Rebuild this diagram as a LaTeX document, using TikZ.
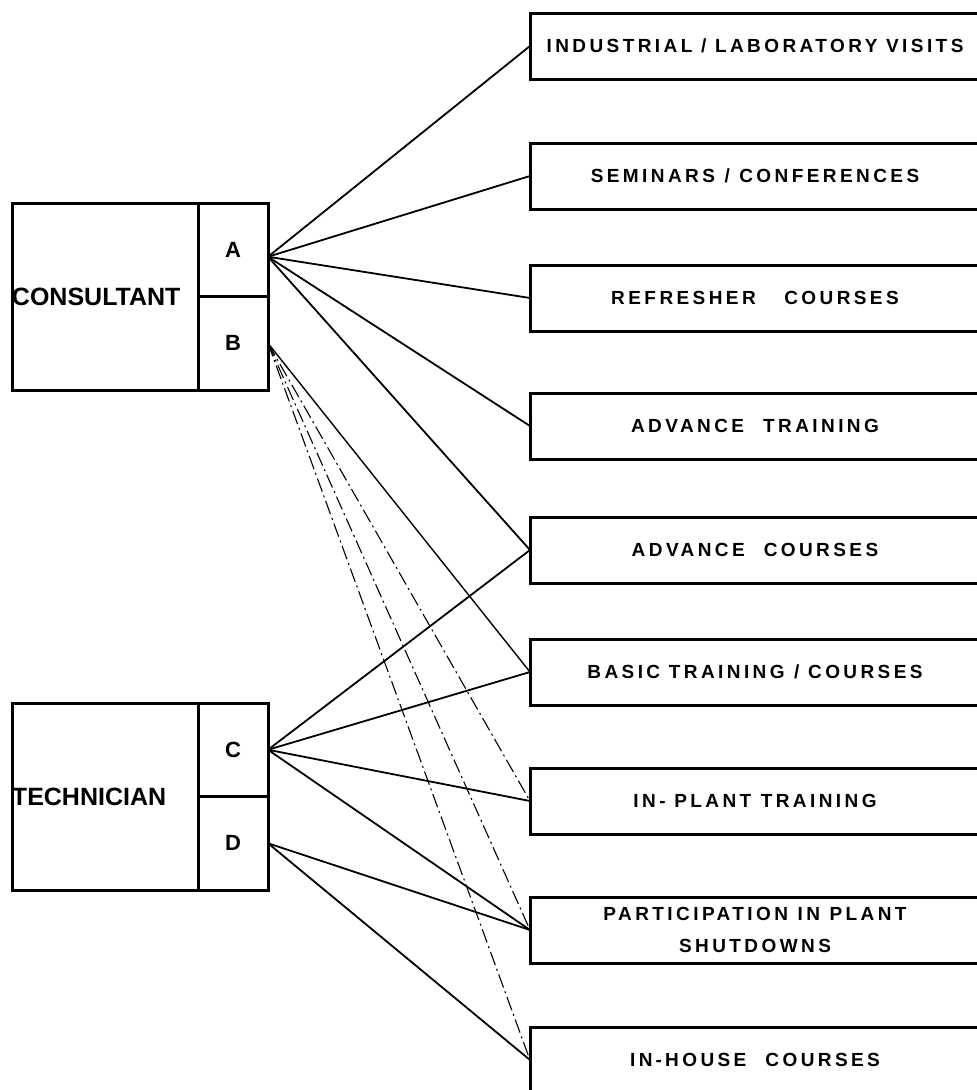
\documentclass[tikz,border=0pt]{standalone}
\usepackage{fontspec}
\setmainfont{Liberation Sans}
\newfontfamily\spaced[LetterSpace=18]{Liberation Sans}
\usetikzlibrary{positioning}

\begin{document}
\begin{tikzpicture}[
  x=1pt, y=-1pt,
  box/.style={
    draw, rectangle, line width=3pt, outer sep=0pt,
    minimum width=186pt, minimum height=187pt,
    inner xsep=0pt, text width=186pt, align=left,
    font=\fontsize{25}{28}\selectfont\bfseries
  },
  cell/.style={
    draw, rectangle, line width=3pt, outer sep=0pt,
    minimum width=70pt, minimum height=93.5pt,
    font=\fontsize{22}{24}\selectfont\bfseries
  },
  course/.style={
    draw, rectangle, line width=3pt, outer sep=0pt,
    minimum width=450pt, minimum height=66pt,
    align=center, font=\fontsize{19}{32}\selectfont\spaced\bfseries
  },
  link/.style={line width=1.8pt},
  faint/.style={line width=1.1pt, dash pattern=on 14pt off 4pt on 2pt off 4pt}
]
\clip (0,0) rectangle (977,1090);

% left side
\node (cons) [box] at (105,296.5) {CONSULTANT};
\node (A) [cell, anchor=north west] at (cons.north east) {A};
\node (B) [cell, anchor=north west] at (A.south west) {B};
\coordinate (a) at ([yshift=-7pt]A.east);

\node (tech) [box] at (105,796.5) {TECHNICIAN};
\node (C) [cell, anchor=north west] at (tech.north east) {C};
\node (D) [cell, anchor=north west] at (C.south west) {D};

% right side
\node (visits) [course] at (755,46) {INDUSTRIAL / LABORATORY VISITS};
\node (semin) [course] at (755,176) {SEMINARS\enspace/\enspace CONFERENCES};
\node (refr) [course] at (755,298) {REFRESHER\quad\enspace COURSES};
\node (advtr) [course] at (755,426) {ADVANCE\quad TRAINING};
\node (advco) [course] at (755,550) {ADVANCE\quad COURSES};
\node (basic) [course] at (755,672) {BASIC TRAINING\enspace/ COURSES};
\node (inplant) [course] at (755,801) {IN- PLANT\enspace TRAINING};
\node (shut) [course] at (755,930) {PARTICIPATION\enspace IN\enspace PLANT\\SHUTDOWNS};
\node (inhouse) [course] at (755,1060) {IN\,-\,HOUSE\quad COURSES};

\draw[link] (a) -- (visits.west);
\draw[link] (a) -- (semin.west);
\draw[link] (a) -- (refr.west);
\draw[link] (a) -- (advtr.west);
\draw[link] (a) -- (advco.west);

\draw[link, line width=1.4pt] (B.east) -- (basic.west);
\draw[faint] (B.east) -- (inplant.west);
\draw[faint] (B.east) -- (shut.west);
\draw[faint] (B.east) -- (inhouse.west);

\draw[link] (C.east) -- (advco.west);
\draw[link] (C.east) -- (basic.west);
\draw[link] (C.east) -- (inplant.west);
\draw[link] (C.east) -- (shut.west);

\draw[link] (D.east) -- (shut.west);
\draw[link] (D.east) -- (inhouse.west);

\end{tikzpicture}
\end{document}
